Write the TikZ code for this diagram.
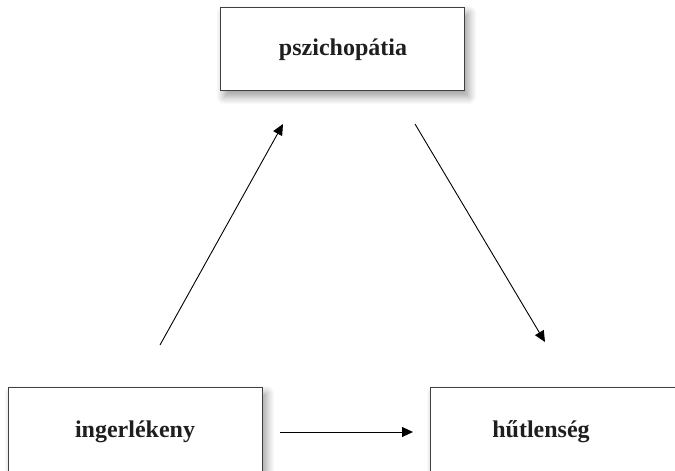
\documentclass[tikz,border=0pt]{standalone}
\usepackage{fontspec}
\setmainfont{Liberation Serif}
\usetikzlibrary{arrows.meta,shadows.blur}
\begin{document}
\begin{tikzpicture}[x=1pt,y=-1pt,
  box/.style={draw=black!75,line width=1pt,fill=white,anchor=north west,inner sep=0pt,
    blur shadow={shadow xshift=4pt,shadow yshift=-6pt,shadow blur radius=8pt,shadow blur steps=10,shadow opacity=40}},
  lbl/.style={font=\fontsize{24}{28}\selectfont\bfseries,text=black!88},
  arr/.style={line width=0.9pt,-{Triangle[length=11pt,width=10pt]}}]
\useasboundingbox (0,0) rectangle (675,471);
\clip (0,0) rectangle (675,471);
\node[box,minimum width=244pt,minimum height=83pt] (top) at (220,7) {};
\node[box,minimum width=254pt,minimum height=100pt] (left) at (8,387) {};
\node[box,minimum width=260pt,minimum height=100pt] (right) at (430,387) {};
\node[lbl] (ttop) at (343,50) {pszichopátia};
\node[lbl] (tleft) at (135,432) {ingerlékeny};
\node[lbl] (tright) at (541,432) {hűtlenség};
\coordinate (a1) at (160,345);
\coordinate (a2) at (283,124);
\coordinate (b1) at (415,124);
\coordinate (b2) at (545,342);
\coordinate (c1) at (280,432);
\coordinate (c2) at (413,432);
\draw[arr] (a1) -- (a2);
\draw[arr] (b1) -- (b2);
\draw[arr] (c1) -- (c2);
\end{tikzpicture}
\end{document}
